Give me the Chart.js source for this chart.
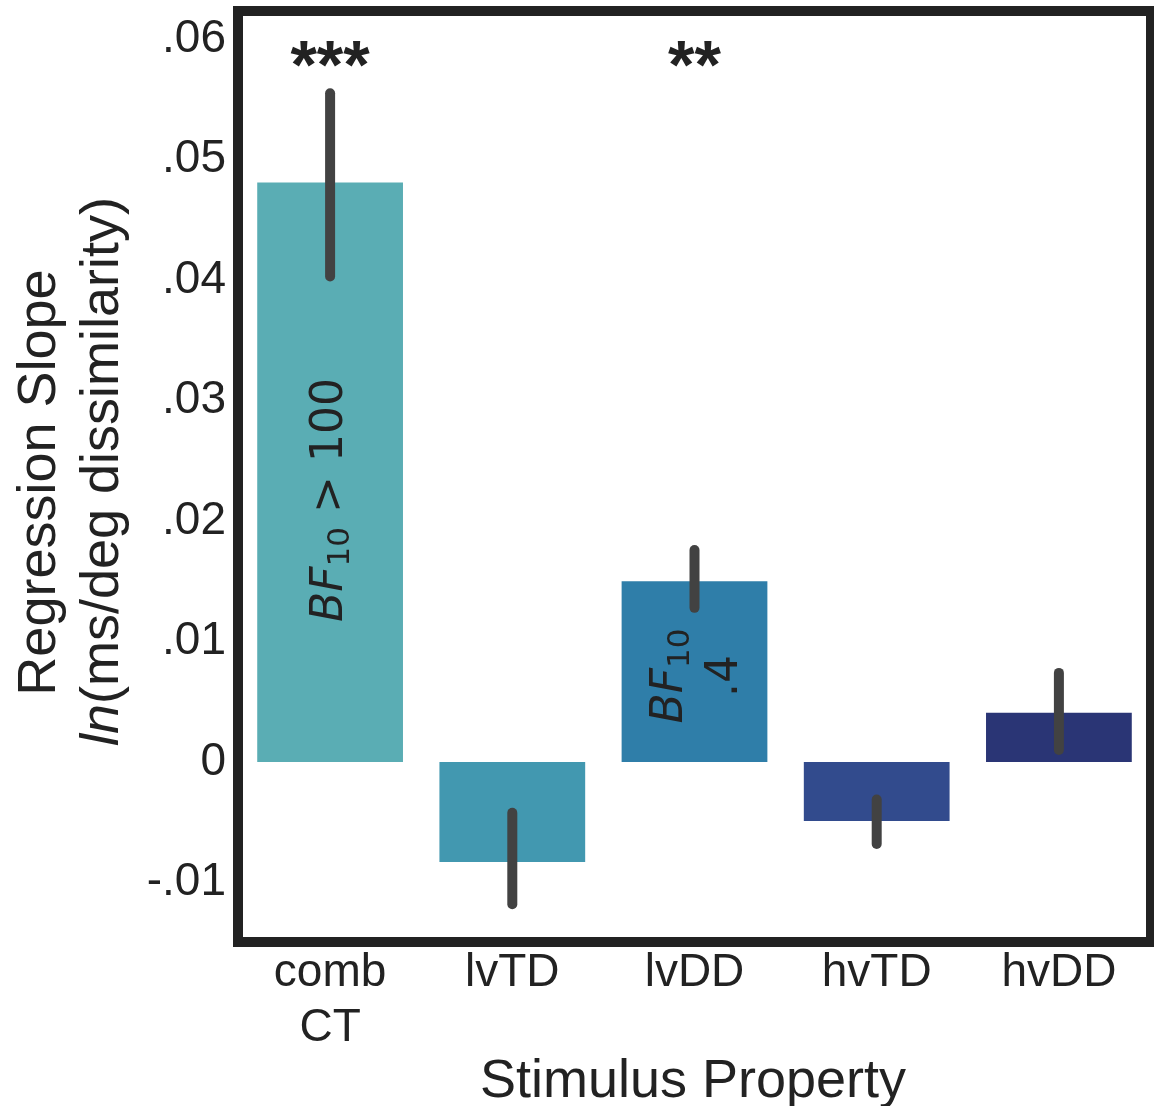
<!DOCTYPE html>
<html>
<head>
<meta charset="utf-8">
<script src="https://cdn.jsdelivr.net/npm/chart.js@4"></script>
<style>
  html, body { margin: 0; padding: 0; background: #fff; }
  #wrap { width: 1154px; height: 1106px; }
</style>
</head>
<body>
<div id="wrap"><canvas id="slopeChart" width="1154" height="1106"></canvas></div>
<script>
// ── Data ────────────────────────────────────────────────────
const categories = [['comb', 'CT'], 'lvTD', 'lvDD', 'hvTD', 'hvDD'];
const slopes     = [0.0481, -0.0083, 0.0150, -0.0049, 0.0041];
const errLow     = [0.0403, -0.0118, 0.0128, -0.0068, 0.0010];
const errHigh    = [0.0555, -0.0042, 0.0176, -0.0031, 0.0074];
const barColors  = ['#5aadb4', '#4298b0', '#2f7ea9', '#324b8d', '#2a3575'];
const stars      = ['***', '', '**', '', ''];
const yTicks     = [-0.01, 0, 0.01, 0.02, 0.03, 0.04, 0.05, 0.06];

const SANS = "'Liberation Sans', Arial, sans-serif";
const BF   = "'DejaVu Sans', sans-serif";
const INK  = '#222222';

function fmtTick(v) {
  if (Math.abs(v) < 1e-9) return '0';
  const s = v.toFixed(2);
  return s.replace(/^(-?)0\./, '$1.');
}

// draw text made of parts along a -90° rotation, centered vertically on cy
function drawRotated(ctx, cy, baseX, parts) {
  ctx.save();
  let total = 0;
  parts.forEach(p => { ctx.font = p.font; p.w = ctx.measureText(p.text).width; total += p.w; });
  ctx.translate(baseX, cy + total / 2);
  ctx.rotate(-Math.PI / 2);
  ctx.textBaseline = 'alphabetic';
  ctx.textAlign = 'left';
  ctx.fillStyle = INK;
  let x = 0;
  parts.forEach(p => {
    ctx.font = p.font;
    ctx.fillText(p.text, x, p.dy || 0);
    x += p.w;
  });
  ctx.restore();
}

// ── Plugins ─────────────────────────────────────────────────
const errorBars = {
  id: 'errorBars',
  afterDatasetsDraw(chart) {
    const { ctx, scales: { x, y } } = chart;
    ctx.save();
    ctx.strokeStyle = '#424242';
    ctx.lineWidth = 10;
    ctx.lineCap = 'round';
    errLow.forEach((lo, i) => {
      const px = x.getPixelForValue(i);
      ctx.beginPath();
      ctx.moveTo(px, y.getPixelForValue(lo));
      ctx.lineTo(px, y.getPixelForValue(errHigh[i]));
      ctx.stroke();
    });
    ctx.restore();
  }
};

const decorations = {
  id: 'decorations',
  afterDraw(chart) {
    const { ctx, chartArea: a, scales: { x } } = chart;
    ctx.save();

    // significance stars
    ctx.fillStyle = INK;
    ctx.font = `bold 68px ${SANS}`;
    ctx.textAlign = 'center';
    ctx.textBaseline = 'alphabetic';
    stars.forEach((s, i) => { if (s) ctx.fillText(s, x.getPixelForValue(i), 88); });

    // Bayes factor labels inside bars
    const big = `italic 44px ${BF}`, reg = `44px ${BF}`, sub = `31px ${BF}`;
    drawRotated(ctx, 500, 342, [
      { text: 'BF', font: big },
      { text: '10', font: sub, dy: 7 },
      { text: ' > 100', font: reg },
    ]);
    drawRotated(ctx, 676, 682, [
      { text: 'BF', font: big },
      { text: '10', font: sub, dy: 7 },
    ]);
    drawRotated(ctx, 676, 737, [{ text: '.4', font: reg }]);

    // y axis title (two lines)
    const midY = (a.top + a.bottom) / 2;
    drawRotated(ctx, midY + 6, 55, [{ text: 'Regression Slope', font: `54px ${SANS}` }]);
    drawRotated(ctx, midY - 5, 118, [
      { text: 'ln', font: `italic 54px ${SANS}` },
      { text: '(ms/deg dissimilarity)', font: `54px ${SANS}` },
    ]);

    // x axis title
    ctx.fillStyle = INK;
    ctx.font = `54px ${SANS}`;
    ctx.textAlign = 'center';
    ctx.fillText('Stimulus Property', 693, 1097);

    // frame
    ctx.strokeStyle = INK;
    ctx.lineWidth = 10;
    ctx.strokeRect(238, 11, 913, 931);
    ctx.restore();
  }
};

// ── Chart ───────────────────────────────────────────────────
new Chart(document.getElementById('slopeChart'), {
  type: 'bar',
  data: {
    labels: categories,
    datasets: [{
      data: slopes,
      backgroundColor: barColors,
      borderWidth: 0,
      barPercentage: 0.8,
      categoryPercentage: 1.0,
    }],
  },
  options: {
    responsive: false,
    animation: false,
    devicePixelRatio: 1,
    layout: { padding: { top: 15, right: 4, left: 0, bottom: 0 } },
    plugins: { legend: { display: false }, tooltip: { enabled: false } },
    scales: {
      x: {
        grid: { display: false, drawTicks: false },
        border: { display: false },
        ticks: { color: INK, font: { family: SANS, size: 46 }, padding: 8, maxRotation: 0 },
        afterFit: s => { s.height = 168; s.paddingLeft = 0; s.paddingRight = 0; },
      },
      y: {
        min: -0.0146,
        max: 0.062,
        grid: { display: false, drawTicks: false },
        border: { display: false },
        afterBuildTicks: s => { s.ticks = yTicks.map(v => ({ value: v })); },
        ticks: {
          color: INK,
          font: { family: SANS, size: 46 },
          padding: 13,
          callback: v => fmtTick(v),
        },
        afterFit: s => { s.width = 239; s.paddingTop = 0; s.paddingBottom = 0; },
      },
    },
  },
  plugins: [errorBars, decorations],
});
</script>
</body>
</html>
